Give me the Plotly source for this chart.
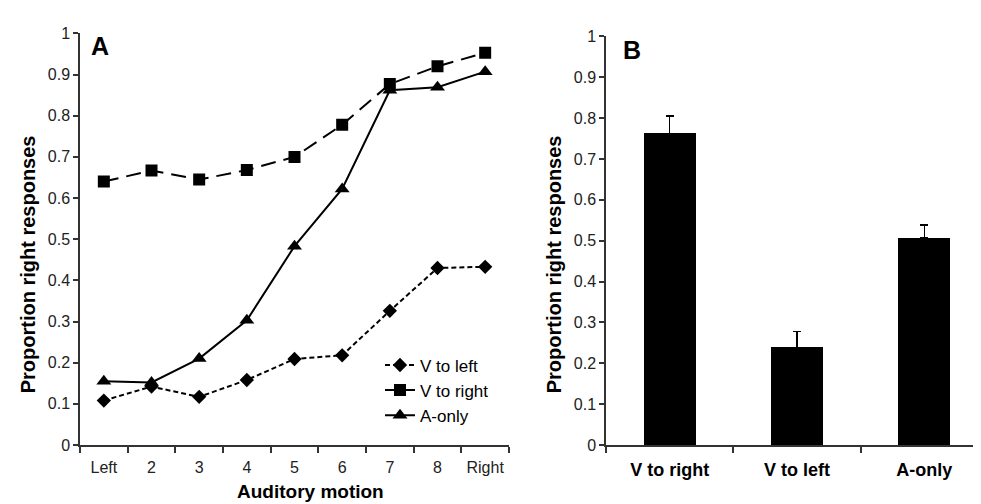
import plotly.graph_objects as go

# ---- data ----
motion_levels = ["Left", "2", "3", "4", "5", "6", "7", "8", "Right"]
v_to_left = [0.108, 0.142, 0.117, 0.158, 0.209, 0.218, 0.326, 0.430, 0.433]
v_to_right = [0.640, 0.667, 0.645, 0.668, 0.700, 0.778, 0.877, 0.920, 0.953]
a_only = [0.155, 0.152, 0.210, 0.303, 0.483, 0.622, 0.862, 0.869, 0.907]

bar_conditions = ["V to right", "V to left", "A-only"]
bar_means = [0.762, 0.238, 0.506]
bar_errors = [0.043, 0.040, 0.032]

W, H = 981, 504
FONT = "Liberation Sans, Arial, sans-serif"
AX = "#333333"

def px_x(p):
    return p / W

def px_y(p):
    return 1 - p / H

fig = go.Figure()

# Panel A lines
fig.add_trace(go.Scatter(x=motion_levels, y=v_to_left, mode="lines+markers", name="V to left",
                         line=dict(color="black", width=2, dash="5px,3px"),
                         marker=dict(symbol="diamond", size=11, color="black"),
                         xaxis="x", yaxis="y", showlegend=False))
fig.add_trace(go.Scatter(x=motion_levels, y=v_to_right, mode="lines+markers", name="V to right",
                         line=dict(color="black", width=2, dash="15px,8px"),
                         marker=dict(symbol="square", size=12, color="black"),
                         xaxis="x", yaxis="y", showlegend=False))
fig.add_trace(go.Scatter(x=motion_levels, y=a_only, mode="lines+markers", name="A-only",
                         line=dict(color="black", width=2),
                         marker=dict(symbol="triangle-up", size=13, color="black"),
                         xaxis="x", yaxis="y", showlegend=False))

# legend entries (as in reference: V to right drawn solid)
fig.add_trace(go.Scatter(x=[None], y=[None], mode="lines+markers", name="V to left",
                         line=dict(color="black", width=2, dash="5px,3px"),
                         marker=dict(symbol="diamond", size=11, color="black"),
                         xaxis="x", yaxis="y"))
fig.add_trace(go.Scatter(x=[None], y=[None], mode="lines+markers", name="V to right",
                         line=dict(color="black", width=2),
                         marker=dict(symbol="square", size=12, color="black"),
                         xaxis="x", yaxis="y"))
fig.add_trace(go.Scatter(x=[None], y=[None], mode="lines+markers", name="A-only",
                         line=dict(color="black", width=2),
                         marker=dict(symbol="triangle-up", size=13, color="black"),
                         xaxis="x", yaxis="y"))

# Panel B bars
fig.add_trace(go.Bar(x=bar_conditions, y=bar_means, width=0.41,
                     marker=dict(color="black", line=dict(color="black", width=0)),
                     error_y=dict(type="data", array=bar_errors, arrayminus=[0, 0, 0],
                                  symmetric=False, color="black", thickness=1.5, width=4),
                     xaxis="x2", yaxis="y2", showlegend=False))

yaxis_common = dict(range=[0, 1], dtick=0.1, showgrid=False, zeroline=False,
                    showline=True, linecolor=AX, linewidth=1.5,
                    ticks="outside", ticklen=5, tickcolor=AX, tickwidth=1.5,
                    tickfont=dict(family=FONT, size=16, color="#222"))
xaxis_common = dict(type="category", showgrid=False, zeroline=False,
                    showline=True, linecolor=AX, linewidth=1.5,
                    ticks="outside", ticklen=6, tickcolor=AX, tickwidth=1.5,
                    tickson="boundaries")

fig.update_layout(
    width=W, height=H,
    margin=dict(l=0, r=0, t=0, b=0),
    paper_bgcolor="white", plot_bgcolor="white",
    bargap=0,
    xaxis=dict(domain=[px_x(72), px_x(501)], range=[-0.5, 8.5], anchor="y",
               tickfont=dict(family=FONT, size=16, color="#222"), ticklabelstandoff=7,
               **xaxis_common),
    yaxis=dict(domain=[px_y(444), px_y(18)], anchor="x", **yaxis_common),
    xaxis2=dict(domain=[px_x(598), px_x(980)], range=[-0.5, 2.5], anchor="y2",
                tickfont=dict(family=FONT, size=18, color="black", weight="bold"),
                ticklabelstandoff=8, **xaxis_common),
    yaxis2=dict(domain=[px_y(444), px_y(21)], anchor="x2", **yaxis_common),
    legend=dict(x=px_x(372), y=px_y(343), xanchor="left", yanchor="top",
                bgcolor="rgba(0,0,0,0)", font=dict(family=FONT, size=17, color="black"),
                tracegroupgap=0, itemwidth=30),
    annotations=[
        dict(text="<b>A</b>", x=px_x(81), y=px_y(31), xref="paper", yref="paper",
             xanchor="left", yanchor="middle", showarrow=False,
             font=dict(family=FONT, size=25, color="black")),
        dict(text="<b>B</b>", x=px_x(613), y=px_y(35), xref="paper", yref="paper",
             xanchor="left", yanchor="middle", showarrow=False,
             font=dict(family=FONT, size=25, color="black")),
        dict(text="<b>Proportion right responses</b>", x=px_x(20), y=px_y(257),
             xref="paper", yref="paper", xanchor="center", yanchor="middle",
             textangle=-90, showarrow=False,
             font=dict(family=FONT, size=20, color="black")),
        dict(text="<b>Proportion right responses</b>", x=px_x(546), y=px_y(257),
             xref="paper", yref="paper", xanchor="center", yanchor="middle",
             textangle=-90, showarrow=False,
             font=dict(family=FONT, size=20, color="black")),
        dict(text="<b>Auditory motion</b>", x=px_x(302), y=px_y(492),
             xref="paper", yref="paper", xanchor="center", yanchor="middle",
             showarrow=False, font=dict(family=FONT, size=19, color="black")),
    ],
)

fig.write_html("out.html")
